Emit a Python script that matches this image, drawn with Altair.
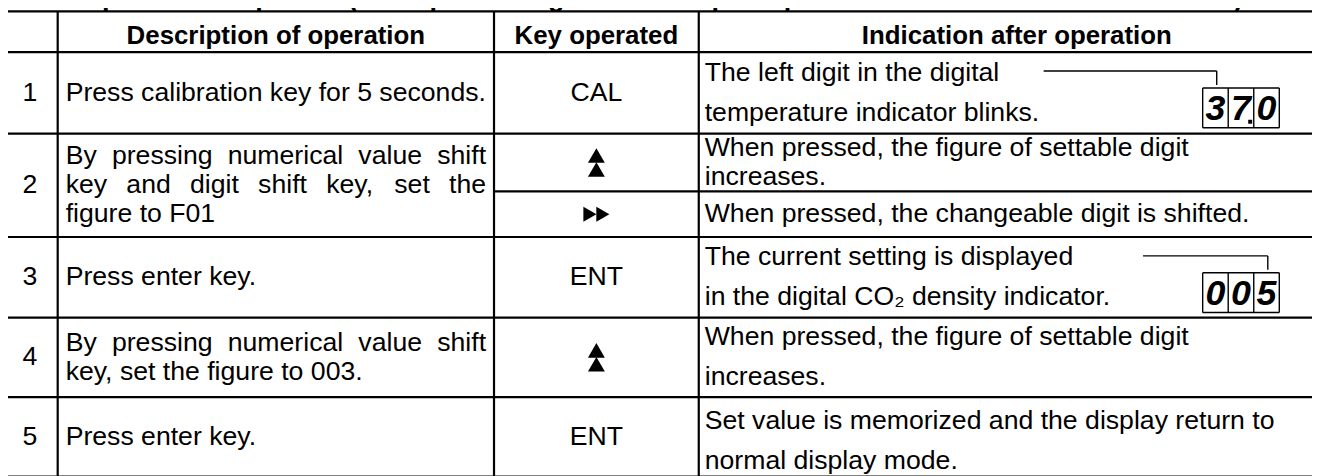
import altair as alt
import pandas as pd

# ---------------- content ----------------
TITLE = "Basic operation sequence (Example: change of UV lamp ON period from 5 minutes to 3 minutes)"
HEADERS = ["", "Description of operation", "Key operated", "Indication after operation"]
STEPS = ["1", "2", "3", "4", "5"]
DESCRIPTIONS = [
    ["Press calibration key for 5 seconds."],
    ["By pressing numerical value shift", "key and digit shift key, set the", "figure to F01"],
    ["Press enter key."],
    ["By pressing numerical value shift", "key, set the figure to 003."],
    ["Press enter key."],
]
KEYS = [["CAL"], ["▲▲", "▶▶"], ["ENT"], ["▲▲"], ["ENT"]]
INDICATIONS = [
    [["The left digit in the digital", "temperature indicator blinks."]],
    [["When pressed, the figure of settable digit", "increases."],
     ["When pressed, the changeable digit is shifted."]],
    [["The current setting is displayed", "in the digital CO₂ density indicator."]],
    [["When pressed, the figure of settable digit", "increases."]],
    [["Set value is memorized and the display return to", "normal display mode."]],
]
READOUTS = ["37.0", None, "005", None, None]   # digital indicator shown in the row
POINTED_DIGIT = [0, None, 2, None, None]       # digit marked by the leader line

# ---------------- layout (page pixels) ----------------
W, H = 1312, 468
COL_EDGES = [6.7, 58, 497, 703, 1343]
ROW_EDGES = [10, 51, 133, 237, 318, 398, 478]
SUB_SPLIT = {1: 191}
IND_LEAD = [40, 28.5, 40, 40, 40]
IND_SHIFT = [0, 0, 0, 0, 4]
DESC_LEAD = 29
FONT = "Liberation Sans, Arial, Helvetica, sans-serif"
FS = 26.8
DESC_X0, DESC_X1 = 66, 489
IND_X0 = 709
LEADER_START = [1050, None, 1150, None, None]
BOX_X0, CELL_W = 1210, 25.7

# Arial / Liberation Sans advance widths (per 1000 em) for justification
AW = {' ': 278, ',': 278, '.': 278, 'B': 667, 'a': 556, 'b': 556, 'c': 500, 'd': 556,
      'e': 556, 'f': 278, 'g': 556, 'h': 556, 'i': 222, 'k': 500, 'l': 222, 'm': 833,
      'n': 556, 'o': 556, 'p': 556, 'r': 333, 's': 500, 't': 278, 'u': 556, 'v': 500,
      'y': 500, 'F': 611, '0': 556, '1': 556, '3': 556}


def tw(s):
    return sum(AW.get(c, 556) for c in s) * FS / 1000.0


left_txt, center_txt, bold_txt, tri_up, tri_right = [], [], [], [], []
big_rules, thin_rules, digits, dots = [], [], [], []

# grid
for y in ROW_EDGES:
    big_rules.append(dict(x=COL_EDGES[0], x2=COL_EDGES[-1], y=y, y2=y))
for r, ys in SUB_SPLIT.items():
    big_rules.append(dict(x=COL_EDGES[2], x2=COL_EDGES[-1], y=ys, y2=ys))
for x in COL_EDGES:
    big_rules.append(dict(x=x, x2=x, y=ROW_EDGES[0], y2=ROW_EDGES[-1]))

# header
hc = (ROW_EDGES[0] + ROW_EDGES[1]) / 2
for i, h in enumerate(HEADERS):
    if h:
        bold_txt.append(dict(x=(COL_EDGES[i] + COL_EDGES[i + 1]) / 2, y=hc + 4, t=h))

for r in range(5):
    top, bot = ROW_EDGES[r + 1], ROW_EDGES[r + 2]
    cy = (top + bot) / 2
    center_txt.append(dict(x=30, y=cy, t=STEPS[r]))
    # description (justified except last line)
    lines = DESCRIPTIONS[r]
    n = len(lines)
    for k, line in enumerate(lines):
        ly = cy + (k - (n - 1) / 2) * DESC_LEAD
        words = line.split(' ')
        if k < n - 1 and len(words) > 1:
            ww = [tw(w) for w in words]
            gap = (DESC_X1 - DESC_X0 - sum(ww)) / (len(words) - 1)
            x = DESC_X0
            for w, wdt in zip(words, ww):
                left_txt.append(dict(x=x, y=ly, t=w))
                x += wdt + gap
        else:
            left_txt.append(dict(x=DESC_X0, y=ly, t=line))
    # sub cells
    if r in SUB_SPLIT:
        cells = [(top, SUB_SPLIT[r]), (SUB_SPLIT[r], bot)]
    else:
        cells = [(top, bot)]
    kx = (COL_EDGES[2] + COL_EDGES[3]) / 2
    for (ct, cb), key, ind in zip(cells, KEYS[r], INDICATIONS[r]):
        ccy = (ct + cb) / 2
        if key == "▲▲":
            tri_up += [dict(x=kx, y=ccy - 7), dict(x=kx, y=ccy + 7)]
        elif key == "▶▶":
            tri_right += [dict(x=kx - 6.5, y=ccy), dict(x=kx + 6.5, y=ccy)]
        else:
            center_txt.append(dict(x=kx, y=ccy, t=key))
        m = len(ind)
        for k, line in enumerate(ind):
            left_txt.append(dict(x=IND_X0, y=ccy + IND_SHIFT[r] + (k - (m - 1) / 2) * IND_LEAD[r], t=line))
    # digital readout
    if READOUTS[r]:
        cells_txt = []
        for ch in READOUTS[r]:
            if ch == '.':
                cells_txt[-1] = (cells_txt[-1][0], True)
            else:
                cells_txt.append((ch, False))
        bt, bb = top + 36, top + 76
        x0 = BOX_X0
        x1 = x0 + CELL_W * len(cells_txt)
        thin_rules += [dict(x=x0, x2=x1, y=bt, y2=bt), dict(x=x0, x2=x1, y=bb, y2=bb)]
        for i in range(len(cells_txt) + 1):
            xx = x0 + i * CELL_W
            thin_rules.append(dict(x=xx, x2=xx, y=bt, y2=bb))
        for i, (ch, dot) in enumerate(cells_txt):
            digits.append(dict(x=x0 + (i + 0.5) * CELL_W, y=(bt + bb) / 2 + 1, t=ch))
            if dot:
                dots.append(dict(x=x0 + (i + 0.86) * CELL_W, y=bb - 6))
        px = x0 + (POINTED_DIGIT[r] + 0.55) * CELL_W
        ly = top + 19
        thin_rules += [dict(x=LEADER_START[r], x2=px, y=ly, y2=ly),
                       dict(x=px, x2=px, y=ly, y2=bt - 3)]

title_df = pd.DataFrame([dict(x=6, y=5, t=TITLE)])

xs = alt.Scale(domain=[8, 8 + W], zero=False, nice=False)
ys = alt.Scale(domain=[8, 8 + H], zero=False, nice=False, reverse=True)


def enc(with_text=True):
    e = dict(x=alt.X('x:Q', scale=xs, axis=None), y=alt.Y('y:Q', scale=ys, axis=None))
    if with_text:
        e['text'] = alt.Text('t:N')
    return e


def rule_enc():
    return dict(x=alt.X('x:Q', scale=xs, axis=None), x2='x2:Q',
                y=alt.Y('y:Q', scale=ys, axis=None), y2='y2:Q')


layers = [
    alt.Chart(pd.DataFrame(big_rules)).mark_rule(color='black', strokeWidth=2.2).encode(**rule_enc()),
    alt.Chart(pd.DataFrame(thin_rules)).mark_rule(color='black', strokeWidth=1.4).encode(**rule_enc()),
    alt.Chart(title_df).mark_text(align='left', baseline='alphabetic', font=FONT, fontSize=27.2,
                                  fontWeight='bold', color='black').encode(**enc()),
    alt.Chart(pd.DataFrame(bold_txt)).mark_text(align='center', baseline='middle', font=FONT,
                                                fontSize=26, fontWeight='bold', color='black').encode(**enc()),
    alt.Chart(pd.DataFrame(center_txt)).mark_text(align='center', baseline='middle', font=FONT,
                                                  fontSize=FS, color='black').encode(**enc()),
    alt.Chart(pd.DataFrame(left_txt)).mark_text(align='left', baseline='middle', font=FONT,
                                                fontSize=FS, color='black').encode(**enc()),
    alt.Chart(pd.DataFrame(digits)).mark_text(align='center', baseline='middle', font=FONT,
                                              fontSize=36, fontWeight='bold', fontStyle='italic',
                                              color='black').encode(**enc()),
    alt.Chart(pd.DataFrame(dots)).mark_point(shape='square', size=16, filled=True,
                                             color='black', opacity=1, strokeWidth=0).encode(**enc(False)),
    alt.Chart(pd.DataFrame(tri_up)).mark_point(shape='triangle-up', size=289, filled=True,
                                               color='black', opacity=1, strokeWidth=0).encode(**enc(False)),
    alt.Chart(pd.DataFrame(tri_right)).mark_point(shape='triangle-right', size=230, filled=True,
                                                  color='black', opacity=1, strokeWidth=0).encode(**enc(False)),
]

chart = alt.layer(*layers).properties(
    width=W, height=H, padding=0, autosize=alt.AutoSizeParams(type='none'), background='white'
).configure_view(stroke=None)

chart.save("out.html", embed_options={"renderer": "svg", "actions": False})
